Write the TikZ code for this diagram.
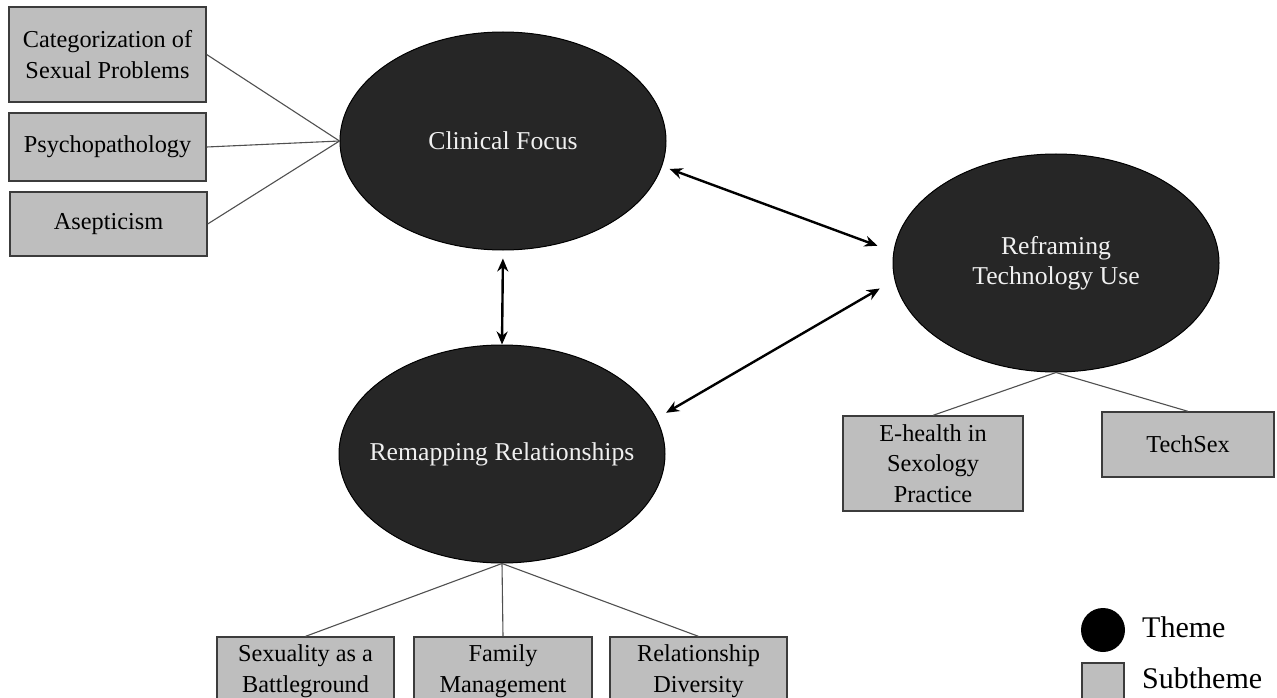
\documentclass[tikz,border=0pt]{standalone}
\usepackage{fontspec}
\setmainfont{Liberation Serif}
\usetikzlibrary{arrows.meta,shapes.geometric}
\definecolor{themefill}{HTML}{262626}
\definecolor{themetext}{HTML}{F0F0F0}
\definecolor{subfill}{HTML}{BEBEBE}
\definecolor{subdraw}{HTML}{3C3C3C}
\definecolor{linkgray}{HTML}{505050}
\begin{document}
\begin{tikzpicture}[x=1pt,y=-1pt,
  theme/.style={ellipse, fill=themefill, draw=black, line width=1pt, minimum width=326pt, minimum height=218pt, inner sep=0pt, text=themetext, align=center, font=\fontsize{25.7}{30}\selectfont},
  sub/.style={rectangle, fill=subfill, draw=subdraw, line width=1.3pt, inner sep=0pt, align=center, font=\fontsize{24.3}{30.5}\selectfont},
  link/.style={draw=linkgray, line width=1.1pt},
  arr/.style={line width=2.4pt, {Stealth[length=13pt,width=11pt]}-{Stealth[length=13pt,width=11pt]}},
  legendtext/.style={font=\fontsize{30}{36}\selectfont, anchor=west, inner sep=0pt}]

\clip (0,0) rectangle (1277,698);
\fill[white] (0,0) rectangle (1277,698);

% themes
\node[theme] (cf) at (503,141) {Clinical Focus};
\node[theme] (rt) at (1056,263) {Reframing\\Technology Use};
\node[theme] (rr) at (502,454) {\makebox[0pt]{Remapping Relationships}};

% subthemes
\node[sub, minimum width=197pt, minimum height=95pt] (cat) at (107.5,54.5) {Categorization of\\Sexual Problems};
\node[sub, minimum width=197pt, minimum height=68pt] (psy) at (107.5,147) {Psychopathology};
\node[sub, minimum width=197pt, minimum height=64pt] (ase) at (108.5,224) {Asepticism};

\node[sub, minimum width=180pt, minimum height=95pt] (eh) at (933,463.5) {E-health in\\Sexology\\Practice};
\node[sub, minimum width=172pt, minimum height=65pt] (ts) at (1188,444.5) {TechSex};

\node[sub, minimum width=177pt, minimum height=68pt] (sb) at (305.5,671) {Sexuality as a\\Battleground};
\node[sub, minimum width=178pt, minimum height=68pt] (fm) at (503,671) {Family\\Management};
\node[sub, minimum width=177pt, minimum height=68pt] (rd) at (698.5,671) {Relationship\\Diversity};

% links
\draw[link] (cat.east) -- (cf.west);
\draw[link] (psy.east) -- (cf.west);
\draw[link] (ase.east) -- (cf.west);
\draw[link] (rt.south) -- (eh.north);
\draw[link] (rt.south) -- (ts.north);
\draw[link] (rr.south) -- (sb.north);
\draw[link] (rr.south) -- (fm.north);
\draw[link] (rr.south) -- (rd.north);

% arrows between themes
\draw[arr, shorten <=8pt, shorten >=17pt] (cf.-9) -- (rt.176);
\draw[arr, shorten <=8pt] (cf.south) -- (rr.north);
\draw[arr, shorten <=17pt, shorten >=11pt] (rt.186) -- (rr.13);

% legend
\node[circle, fill=black, minimum size=44pt, inner sep=0pt] (lt) at (1103,630) {};
\node[sub, minimum width=42pt, minimum height=42pt, line width=1.8pt] (ls) at (1103,684) {};
\node[legendtext] (ltt) at (1142,627) {Theme};
\node[legendtext] (lst) at (1142,678) {Subtheme};
\end{tikzpicture}
\end{document}
